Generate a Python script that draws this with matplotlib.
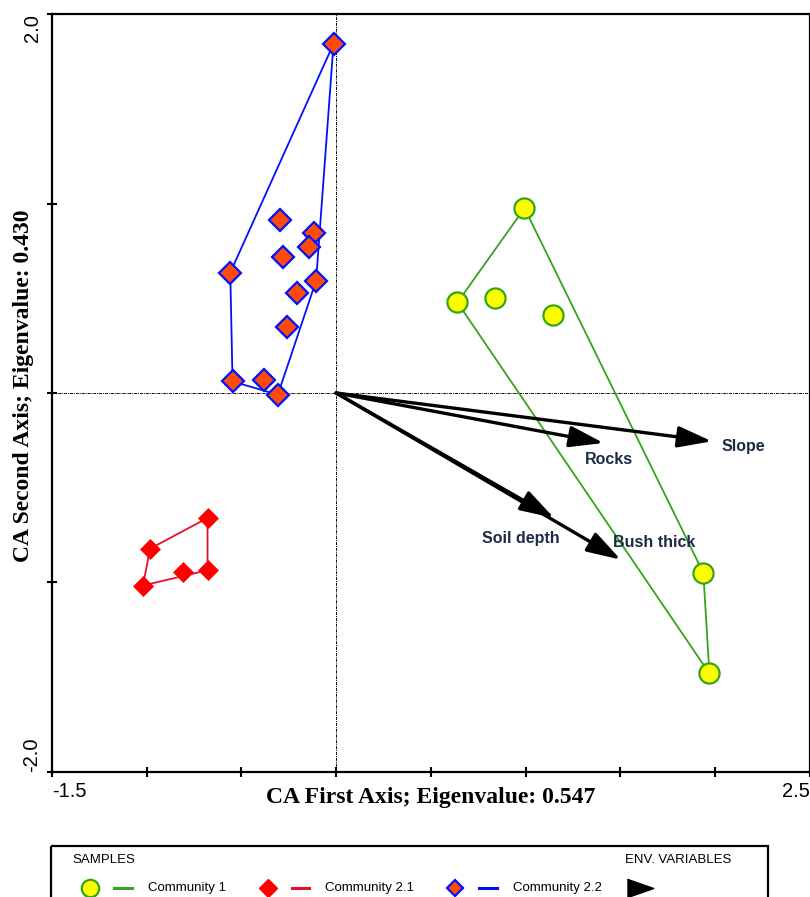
import matplotlib
matplotlib.use('Agg')
import matplotlib.pyplot as plt
from matplotlib.lines import Line2D
from matplotlib.patches import Rectangle
import numpy as np

# sample scores (CA axis 1, CA axis 2)
comm1_x = [0.994, 0.640, 0.839, 1.142, 1.938, 1.970]
comm1_y = [0.976, 0.478, 0.501, 0.413, -0.950, -1.481]

comm21_x = [-0.679, -0.982, -0.679, -0.809, -1.020]
comm21_y = [-0.660, -0.822, -0.936, -0.947, -1.017]

comm22_x = [-0.014, -0.296, -0.115, -0.146, -0.283, -0.559,
            -0.106, -0.206, -0.260, -0.547, -0.380, -0.308]
comm22_y = [1.844, 0.915, 0.844, 0.770, 0.716, 0.636,
            0.593, 0.528, 0.348, 0.061, 0.070, -0.009]

# environmental variable biplot arrows
env_names = ['Slope', 'Rocks', 'Soil depth', 'Bush thick']
env_x = [1.983, 1.411, 1.150, 1.502]
env_y = [-0.255, -0.264, -0.660, -0.880]
env_lab_x = [2.032, 1.314, 0.769, 1.460]
env_lab_y = [-0.282, -0.350, -0.770, -0.788]

eig1 = '0.547'
eig2 = '0.430'


def hull(xs, ys):
    # monotone chain convex hull, returns closed ring
    pts = sorted(zip(xs, ys))
    def cross(o, a, b):
        return (a[0]-o[0])*(b[1]-o[1]) - (a[1]-o[1])*(b[0]-o[0])
    lower, upper = [], []
    for p in pts:
        while len(lower) >= 2 and cross(lower[-2], lower[-1], p) <= 0:
            lower.pop()
        lower.append(p)
    for p in reversed(pts):
        while len(upper) >= 2 and cross(upper[-2], upper[-1], p) <= 0:
            upper.pop()
        upper.append(p)
    ring = lower[:-1] + upper[:-1]
    ring.append(ring[0])
    return np.array(ring)


sans = 'Liberation Sans'
serif = 'Liberation Serif'

fig = plt.figure(figsize=(8.1, 8.97), dpi=100)
ax = fig.add_axes([52/810, (897-771.7)/897, 757.8/810, 757.4/897])

green = '#33a51a'
red_line = '#e4102e'
blue = '#0010ff'

# envelopes
for xs, ys, c in [(comm1_x, comm1_y, green), (comm21_x, comm21_y, red_line),
                  (comm22_x, comm22_y, blue)]:
    h = hull(xs, ys)
    ax.plot(h[:, 0], h[:, 1], color=c, lw=1.3, zorder=2)

ax.axhline(0, color='black', lw=0.7, ls=(0, (3, 1, 1, 1)), zorder=1)
ax.axvline(0, color='black', lw=0.7, ls=(0, (3, 1, 1, 1)), zorder=1)

# arrows
for x, y in zip(env_x, env_y):
    ax.annotate('', xy=(x, y), xytext=(0, 0),
                arrowprops=dict(arrowstyle='-|>,head_length=1.6,head_width=0.5',
                                mutation_scale=13, lw=2.4, color='black',
                                shrinkA=0, shrinkB=0), zorder=4)
for name, x, y in zip(env_names, env_lab_x, env_lab_y):
    ax.text(x, y, name, ha='left', va='center', fontsize=11.5,
            fontweight='bold', family=sans, color='#1c2b45', zorder=5)

# samples
ax.plot(comm1_x, comm1_y, 'o', ms=14.5, mfc='#ffff00', mec=green, mew=1.6, zorder=3)
ax.plot(comm21_x, comm21_y, 'D', ms=10.5, mfc='#ff0000', mec='#ff0000', mew=0.5, zorder=3)
ax.plot(comm22_x, comm22_y, 'D', ms=11, mfc='#ff4a0a', mec=blue, mew=1.6, zorder=3)

ax.set_xlim(-1.5, 2.5)
ax.set_ylim(-2.0, 2.0)

xt = np.arange(-1.5, 2.51, 0.5)
ax.set_xticks(xt)
xl = ax.set_xticklabels(['-1.5'] + [''] * (len(xt) - 2) + ['2.5'],
                        fontsize=14.5, family=sans)
xl[0].set_ha('left')
xl[-1].set_ha('right')

yt = [-2, -1, 0, 1, 2]
ax.set_yticks(yt)
yl = ax.set_yticklabels(['-2.0', '', '', '', '2.0'], fontsize=14.5, family=sans,
                        rotation=90)
yl[0].set_va('bottom')
yl[-1].set_va('top')

ax.tick_params(direction='inout', length=7, width=1.5, pad=4)
for s in ax.spines.values():
    s.set_linewidth(1.6)

ax.set_xlabel(f'CA First Axis; Eigenvalue: {eig1}', fontsize=17,
              fontweight='bold', family=serif, va='center')
ax.xaxis.set_label_coords(0.5, (771.7 - 797) / 757.4)
ax.set_ylabel(f'CA Second Axis; Eigenvalue: {eig2}', fontsize=17,
              fontweight='bold', family=serif, va='center')
ax.yaxis.set_label_coords((23 - 52) / 757.8, 0.51)

# legend panel in pixel space
lax = fig.add_axes([0, 0, 1, 1])
lax.set_xlim(0, 810)
lax.set_ylim(897, 0)
lax.axis('off')
lax.add_patch(Rectangle((51, 846), 717, 100, fill=False, lw=1.6, ec='black'))
lax.text(72, 860, 'SAMPLES', fontsize=9.5, family=sans, va='center')
lax.text(625, 860, 'ENV. VARIABLES', fontsize=9.5, family=sans, va='center')
ly = 888
lax.add_line(Line2D([90], [ly], marker='o', ms=12.5, mfc='#ffff00', mec=green, mew=1.6))
lax.add_line(Line2D([114, 132], [ly, ly], color=green, lw=2.2))
lax.text(148, ly, 'Community 1', fontsize=9.5, family=sans, va='center')
lax.add_line(Line2D([268], [ly], marker='D', ms=9, mfc='#ff0000', mec='#ff0000'))
lax.add_line(Line2D([292, 309], [ly, ly], color=red_line, lw=2.2))
lax.text(325, ly, 'Community 2.1', fontsize=9.5, family=sans, va='center')
lax.add_line(Line2D([455], [ly], marker='D', ms=8.5, mfc='#ff4a0a', mec=blue, mew=1.6))
lax.add_line(Line2D([479, 497], [ly, ly], color=blue, lw=2.2))
lax.text(513, ly, 'Community 2.2', fontsize=9.5, family=sans, va='center')
lax.add_line(Line2D([640], [ly], marker=[(-1, -0.7), (1, 0), (-1, 0.7)],
                    ms=19, mfc='black', mec='black'))

fig.savefig('out.png', dpi=100)
